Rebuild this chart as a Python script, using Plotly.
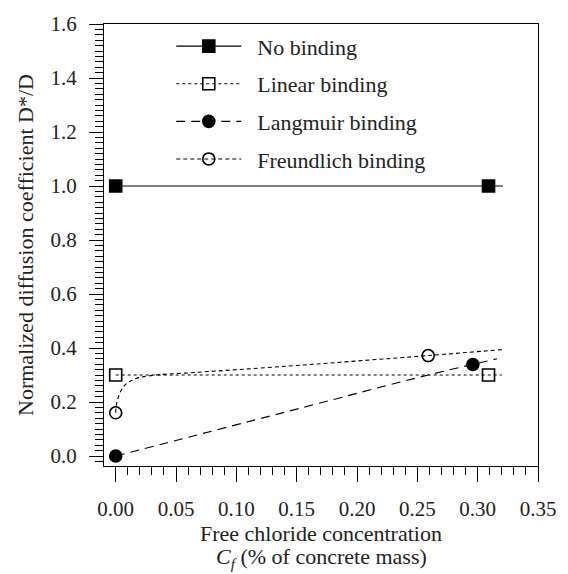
import plotly.graph_objects as go

FONT = "Liberation Serif"

# ---- data ----
no_x = [0.0, 0.309]
no_y = [1.0, 1.0]
no_line_x = [0.0, 0.321]
no_line_y = [1.0, 1.0]

lin_x = [0.0, 0.309]
lin_y = [0.3, 0.3]
lin_line_x = [0.0, 0.32]
lin_line_y = [0.3, 0.3]

lang_x = [0.0, 0.296]
lang_y = [0.0, 0.339]
lang_line_x = [0.0, 0.14, 0.259, 0.316]
lang_line_y = [0.0, 0.162, 0.30, 0.36]

fr_x = [0.0, 0.259]
fr_y = [0.16, 0.372]
fr_line_x = [0.0, 0.001, 0.006, 0.014, 0.028, 0.068, 0.14, 0.2, 0.259, 0.32]
fr_line_y = [0.16, 0.2, 0.254, 0.282, 0.297, 0.31, 0.332, 0.352, 0.372, 0.394]

names = ["No binding", "Linear binding", "Langmuir binding", "Freundlich binding"]
x_ticks = [0.0, 0.05, 0.10, 0.15, 0.20, 0.25, 0.30, 0.35]
y_ticks = [0.0, 0.2, 0.4, 0.6, 0.8, 1.0, 1.2, 1.4, 1.6]

series = [
    (no_line_x, no_line_y, no_x, no_y, "solid", "square", "linear"),
    (lin_line_x, lin_line_y, lin_x, lin_y, "dot", "square-open", "linear"),
    (lang_line_x, lang_line_y, lang_x, lang_y, "9px,6px", "circle", "spline"),
    (fr_line_x, fr_line_y, fr_x, fr_y, "4px,3px", "circle-open", "spline"),
]

fig = go.Figure()
for i, (lx, ly, mx, my, dash, sym, shape) in enumerate(series):
    fig.add_trace(go.Scatter(x=lx, y=ly, mode="lines", showlegend=False,
                             line=dict(color="black", width=1.1, dash=dash, shape=shape),
                             hoverinfo="skip"))
    fig.add_trace(go.Scatter(x=mx, y=my, mode="markers", showlegend=False,
                             marker=dict(symbol=sym, size=12, color="black",
                                         line=dict(color="black", width=1.6))))
    # legend entry
    fig.add_trace(go.Scatter(x=[None], y=[None], mode="lines+markers",
                             name="\u2002" + names[i],
                             legendgroup=f"g{i}",
                             line=dict(color="black", width=1.1, dash=dash),
                             marker=dict(symbol=sym, size=12, color="black",
                                         line=dict(color="black", width=1.6))))

axis_common = dict(
    showline=True, linecolor="black", linewidth=1.3, mirror=True,
    showgrid=False, zeroline=False, ticks="outside", tickcolor="black",
    tickwidth=1.2, tickfont=dict(family=FONT, size=21, color="#222"),
)

fig.update_xaxes(
    range=[-0.0097, 0.35], tickvals=x_ticks,
    ticktext=[f"{v:.2f}" for v in x_ticks], ticklen=15, ticklabelstandoff=9,
    minor=dict(dtick=0.01, ticklen=8, tickcolor="black", tickwidth=1.2, ticks="outside"),
    **axis_common,
)
fig.update_yaxes(
    range=[-0.037, 1.6], tickvals=y_ticks,
    ticktext=[f"{v:.1f}" for v in y_ticks], ticklen=14, ticklabelstandoff=8,
    minor=dict(dtick=0.02, tick0=0, ticklen=8, tickcolor="black", tickwidth=1.2, ticks="outside"),
    title=dict(text="Normalized diffusion coefficient D*/D",
               font=dict(family=FONT, size=22, color="#222"), standoff=10),
    **axis_common,
)

fig.add_annotation(text="Free chloride concentration", xref="paper", yref="paper",
                   x=0.5, y=-0.153, xanchor="center", yanchor="middle", showarrow=False,
                   font=dict(family=FONT, size=22, color="#222"))
fig.add_annotation(text="<i>C<sub>f</sub></i> (% of concrete mass)", xref="paper", yref="paper",
                   x=0.5, y=-0.209, xanchor="center", yanchor="middle", showarrow=False,
                   font=dict(family=FONT, size=22, color="#222"))

fig.update_layout(
    width=568, height=574,
    margin=dict(l=104, r=19, t=22, b=108),
    paper_bgcolor="white", plot_bgcolor="white",
    font=dict(family=FONT),
    showlegend=True,
    legend=dict(x=0.155, y=0.997, xanchor="left", yanchor="top",
                bgcolor="rgba(0,0,0,0)", borderwidth=0,
                font=dict(family=FONT, size=22, color="#222"),
                itemwidth=65, tracegroupgap=6, traceorder="grouped"),
)

fig.write_html("out.html")
